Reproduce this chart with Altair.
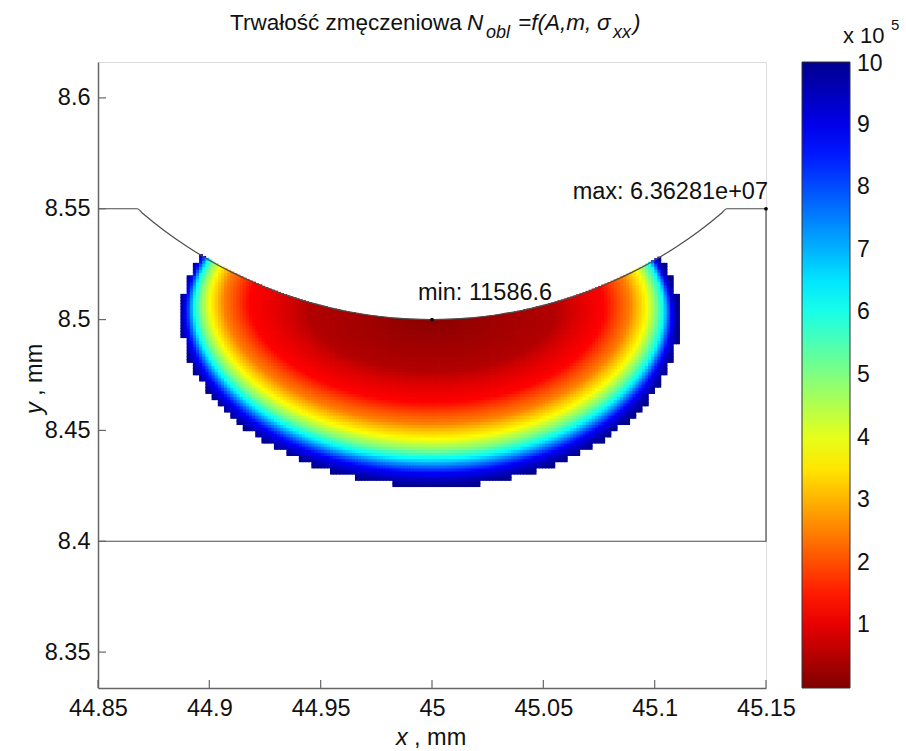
import numpy as np
import pandas as pd
import altair as alt

FONT = "Liberation Sans"

# ---------------- axis ticks ----------------
x_ticks = [44.85, 44.90, 44.95, 45.00, 45.05, 45.10, 45.15]
y_ticks = [8.35, 8.40, 8.45, 8.50, 8.55, 8.60]
cbar_values = [100000, 200000, 300000, 400000, 500000, 600000, 700000, 800000, 900000]
cbar_top = 1000000

# ---------------- specimen outline ----------------
profile_x = [44.850, 44.8677, 44.870, 44.880, 44.890, 44.900, 44.910, 44.920, 44.930, 44.940,
             44.950, 44.960, 44.970, 44.980, 44.990, 45.000, 45.010, 45.020, 45.030, 45.040,
             45.050, 45.060, 45.070, 45.080, 45.090, 45.100, 45.110, 45.120, 45.130, 45.1323, 45.150]
profile_y = [8.5500, 8.5500, 8.5480, 8.5400, 8.5330, 8.5268, 8.5214, 8.5167, 8.5126, 8.5092,
             8.5064, 8.5040, 8.5023, 8.5010, 8.5003, 8.5000, 8.5003, 8.5010, 8.5023, 8.5040,
             8.5064, 8.5092, 8.5126, 8.5167, 8.5214, 8.5268, 8.5330, 8.5400, 8.5480, 8.5500, 8.5500]
body_x = [45.15, 45.15, 44.85]
body_y = [8.55, 8.40, 8.40]

# notch: circular arc through the profile points
notch_cx, notch_cy, notch_r = 45.0, 8.70, 0.20

# ---------------- fatigue-life contours (x 1e5 cycles) ----------------
levels = [0.116, 0.5, 1.25, 2.5, 3.75, 5.0, 6.25, 8.75, 10.0]
# depth below notch root (mm) where each level crosses the symmetry line x = 45
level_depth = [0.0, 0.023, 0.037, 0.0465, 0.0535, 0.0585, 0.0625, 0.0688, 0.0745]
# x (mm) where each level meets the notch surface, left and right
level_surf_left = [45.0, 44.9450, 44.9200, 44.9100, 44.9048, 44.9016, 44.8994, 44.8971, 44.8954]
level_surf_right = [45.0, 45.0550, 45.0754, 45.0857, 45.0920, 45.0952, 45.0979, 45.1001, 45.1019]
contour_shape = 2.2

min_value = 11586.6
max_value = 6.36281e7
min_point = (45.00, 8.50)
max_point = (45.15, 8.55)

X_DOMAIN = [44.85, 45.15]
Y_DOMAIN = [8.3338, 8.6162]
C_DOMAIN = [0, 1000000]


def field(X, Y):
    dx = X - notch_cx
    dy = notch_cy - Y
    depth = np.clip(np.hypot(dx, dy) - notch_r, 0, None)
    theta = np.degrees(np.arctan2(dx, dy))
    th_l = -np.degrees(np.arcsin((np.array(level_surf_left) - notch_cx) / notch_r))
    th_r = np.degrees(np.arcsin((np.array(level_surf_right) - notch_cx) / notch_r))
    p = contour_shape
    S = []
    for k in range(1, len(levels)):
        th0 = np.where(theta < 0, th_l[k], th_r[k])
        S.append(((np.abs(theta) / th0) ** p + (depth / level_depth[k]) ** p) ** (1 / p))
    val = np.full(X.shape, np.nan)
    m = S[0] <= 1
    val[m] = levels[0] + (levels[1] - levels[0]) * S[0][m]
    for k in range(2, len(levels)):
        a, b = S[k - 2], S[k - 1]
        m = (a > 1) & (b <= 1)
        f = (a[m] - 1) / (a[m] - b[m])
        val[m] = levels[k - 1] + f * (levels[k] - levels[k - 1])
    return val


def arc_y(x):
    dx = np.clip(np.abs(x - notch_cx), 0, notch_r)
    return notch_cy - np.sqrt(notch_r ** 2 - dx ** 2)


step = 0.0014
gx = np.arange(44.880, 45.120, step) + step / 2
gy = np.arange(8.415, 8.535, step) + step / 2
X, Y = np.meshgrid(gx, gy)
val = field(X, Y)
cs = 2 * step
Xc = (np.floor((X - 44.85) / cs) + 0.5) * cs + 44.85
Yc = (np.floor((Y - 8.40) / cs) + 0.5) * cs + 8.40
keep = ~np.isnan(field(Xc, Yc))

x_lo = X - step / 2
x_hi = X + step * 0.75
# the notch surface bounds each column of cells from above
surf = np.maximum(arc_y(x_lo), arc_y(x_hi))
y_lo = Y - step * 0.75
y_hi = np.minimum(Y + step / 2, surf)
keep &= y_lo < surf - step * 0.05
val = np.where(np.isnan(val), levels[-1], val)

cells = pd.DataFrame({
    "x": np.round(x_lo[keep], 5),
    "x2": np.round(x_hi[keep], 5),
    "y": np.round(y_lo[keep], 5),
    "y2": np.round(y_hi[keep], 5),
    "N": np.round(val[keep] * 1e5, 0),
})

W, H = 668, 626
CB_X0, CB_W = 704, 48   # colorbar position relative to the plot area
xs = alt.Scale(domain=X_DOMAIN, nice=False, zero=False)
ys = alt.Scale(domain=Y_DOMAIN, nice=False, zero=False)
xaxis = alt.Axis(values=x_ticks, format=".2~f", title=None, grid=False, ticks=False, tickSize=0,
                 labelFontSize=23.5, labelFont=FONT, labelColor="#111", labelPadding=8,
                 labelFlush=False, labelOverlap=False, domainColor="#666", domainWidth=1.5)
yaxis = alt.Axis(values=y_ticks, format=".2~f", title=None, grid=False, ticks=False, tickSize=0,
                 labelFontSize=23.5, labelFont=FONT, labelColor="#111", labelPadding=8,
                 labelFlush=False, labelOverlap=False, domainColor="#666", domainWidth=1.5)


def XF(f):
    return alt.X(f, type="quantitative", scale=xs, axis=xaxis)


def YF(f):
    return alt.Y(f, type="quantitative", scale=ys, axis=yaxis)


cscale = alt.Scale(domain=[0, 125000, 375000, 625000, 875000, 1000000],
                   range=["#800000", "#ff0000", "#ffff00", "#00ffff", "#0000ff", "#00008f"],
                   interpolate="rgb", clamp=True)
legend = alt.Legend(orient="none", legendX=CB_X0, legendY=0, direction="vertical", title=None,
                    gradientLength=H, gradientThickness=CB_W, values=cbar_values,
                    labelExpr="datum.value / 100000", labelFontSize=23, labelFont=FONT,
                    labelColor="#111", labelOffset=7, labelBaseline="middle", labelOverlap=False,
                    gradientStrokeColor="#333", gradientStrokeWidth=1, zindex=0)

field_layer = alt.Chart(cells).mark_rect(strokeWidth=0).encode(
    x=XF("x"), x2="x2", y=YF("y"), y2="y2",
    color=alt.Color("N:Q", scale=cscale, legend=legend))

prof = pd.DataFrame({"x": profile_x, "y": profile_y, "o": list(range(len(profile_x)))})
arc = prof.iloc[1:-1].copy()
arc["top"] = Y_DOMAIN[1]
mask_layer = alt.Chart(arc).mark_area(color="white", opacity=1, interpolate="monotone").encode(
    x=XF("x"), y=YF("y"), y2="top:Q", order="o:Q")
profile_layer = alt.Chart(prof).mark_line(color="#4d4d4d", strokeWidth=1.2, interpolate="monotone").encode(
    x=XF("x"), y=YF("y"), order="o:Q")
body = pd.DataFrame({"x": body_x, "y": body_y, "o": [0, 1, 2]})
body_layer = alt.Chart(body).mark_line(color="#4d4d4d", strokeWidth=1.2).encode(
    x=XF("x"), y=YF("y"), order="o:Q")

xt_layer = alt.Chart(pd.DataFrame({"v": x_ticks})).mark_rule(color="#666", strokeWidth=1.2).encode(
    x=XF("v"), y=alt.value(H), y2=alt.value(H - 8))
yt_layer = alt.Chart(pd.DataFrame({"v": y_ticks})).mark_rule(color="#666", strokeWidth=1.2).encode(
    y=YF("v"), x=alt.value(0), x2=alt.value(8))

pts = pd.DataFrame({"x": [min_point[0], max_point[0]], "y": [min_point[1], max_point[1]]})
pts_layer = alt.Chart(pts).mark_point(filled=True, color="black", size=14, opacity=1).encode(
    x=XF("x"), y=YF("y"))

min_df = pd.DataFrame({"x": [min_point[0]], "y": [min_point[1]], "t": [f"min: {min_value:g}"]})
max_df = pd.DataFrame({"x": [max_point[0]], "y": [max_point[1]], "t": [f"max: {max_value:.5e}"]})
min_txt = alt.Chart(min_df).mark_text(align="left", baseline="middle", dx=-14, dy=-27,
                                      font=FONT, fontSize=23.5, color="#111").encode(
    x=XF("x"), y=YF("y"), text="t:N")
max_txt = alt.Chart(max_df).mark_text(align="right", baseline="middle", dx=2, dy=-17,
                                      font=FONT, fontSize=23.5, color="#111").encode(
    x=XF("x"), y=YF("y"), text="t:N")


def label(text, px, py, size=22.5, style="normal", angle=0, align="left", baseline="alphabetic"):
    kw = dict(align=align, baseline=baseline, font=FONT, fontSize=size, fontStyle=style, color="#111")
    if angle:
        kw["angle"] = angle
    return alt.Chart(pd.DataFrame({"t": [text]})).mark_text(**kw).encode(
        x=alt.value(px), y=alt.value(py), text="t:N")


title_parts = [
    label("Trwałość zmęczeniowa", 132, -32),
    label("N", 369, -32, style="italic"),
    label("obl", 388, -24, size=18, style="italic"),
    label("=f(A,m,", 420, -32, style="italic"),
    label("σ", 499, -32, style="italic"),
    label("xx", 515, -24, size=18, style="italic"),
    label(")", 535, -32, style="italic"),
]
axis_titles = [
    label("x", 298, 676, size=23.5, style="italic", baseline="middle"),
    label(", mm", 316, 676, size=23.5, baseline="middle"),
    label("y", -63, 352, size=23.5, style="italic", angle=270, baseline="middle"),
    label(", mm", -63, 334, size=23.5, angle=270, baseline="middle"),
    label("x 10", 745, -19, size=22),
    label("5", 793, -32, size=15),
    label(f"{cbar_top // 100000}", 759, 2, size=23, baseline="middle"),
]

main = alt.layer(
    field_layer, mask_layer, profile_layer, body_layer, xt_layer, yt_layer, pts_layer,
    min_txt, max_txt, *title_parts, *axis_titles
)

# colorbar tick marks (inside, both edges), on the colorbar's own value scale
cb_scale = alt.Scale(domain=C_DOMAIN, nice=False, zero=False)
cb = pd.DataFrame({"v": cbar_values})
cb_left = alt.Chart(cb).mark_rule(color="#333", strokeWidth=1).encode(
    y=alt.Y("v:Q", scale=cb_scale, axis=None),
    x=alt.value(CB_X0), x2=alt.value(CB_X0 + 5))
cb_right = alt.Chart(cb).mark_rule(color="#333", strokeWidth=1).encode(
    y=alt.Y("v:Q", scale=cb_scale, axis=None),
    x=alt.value(CB_X0 + CB_W - 5), x2=alt.value(CB_X0 + CB_W))
cbar_ticks = alt.layer(cb_left, cb_right)

chart = alt.layer(main, cbar_ticks).resolve_scale(y="independent").properties(
    width=W, height=H,
    autosize=alt.AutoSizeParams(type="none"),
    padding={"left": 98, "top": 62, "right": 140, "bottom": 63},
    background="white",
).configure_view(stroke=None).configure(font=FONT)

chart.save("out.html", embed_options={"renderer": "svg", "actions": False})
